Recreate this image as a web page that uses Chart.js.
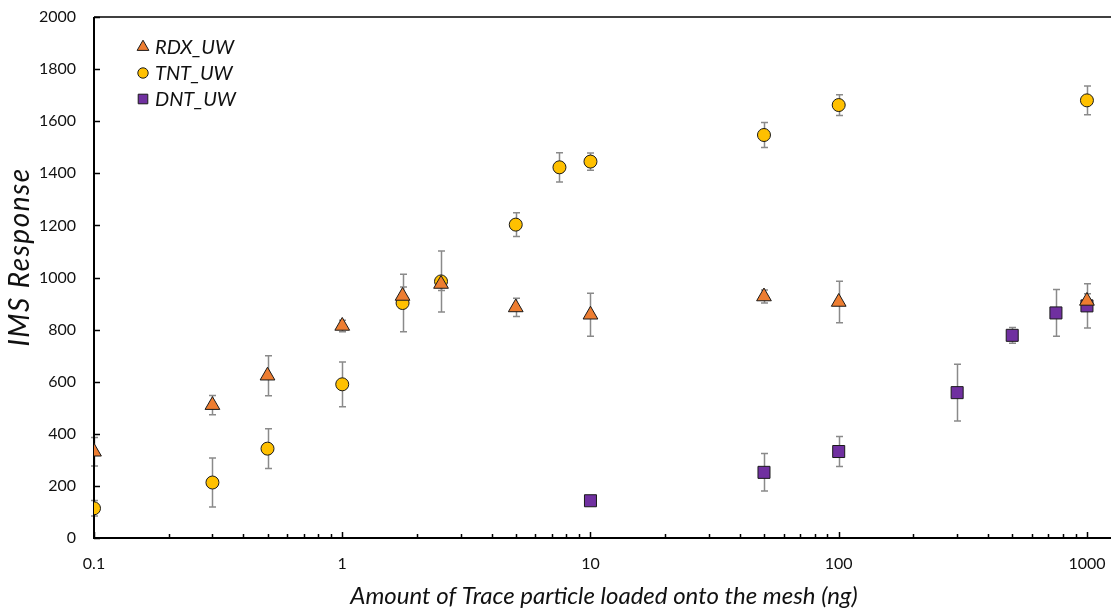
<!DOCTYPE html>
<html>
<head>
<meta charset="utf-8">
<script src="https://cdn.jsdelivr.net/npm/chart.js@4.4.1/dist/chart.umd.min.js"></script>
<style>
  html, body { margin: 0; padding: 0; background: #ffffff; }
  #wrap { width: 1111px; height: 609px; }
</style>
</head>
<body>
<div id="wrap"><canvas id="c" width="1111" height="609"></canvas></div>
<script>
// ---- Data ----
const rdxX   = [0.1, 0.3, 0.5, 1, 1.75, 2.5, 5, 10, 50, 100, 1000];
const rdxY   = [331, 510, 623, 814, 929, 975, 885, 857, 927, 906, 910];
const rdxErr = [55, 37, 77, 22, 35, 25, 35, 83, 25, 80, 28];

const tntX   = [0.1, 0.3, 0.5, 1, 1.75, 2.5, 5, 7.5, 10, 50, 100, 1000];
const tntY   = [114, 213, 343, 590, 902, 985, 1203, 1423, 1445, 1547, 1662, 1680];
const tntErr = [30, 94, 76, 86, 110, 117, 46, 56, 33, 48, 40, 55];

const dntX   = [10, 50, 100, 300, 500, 750, 1000];
const dntY   = [143, 252, 332, 558, 778, 864, 891];
const dntErr = [0, 72, 58, 109, 30, 90, 85];

const seriesNames = ['RDX_UW', 'TNT_UW', 'DNT_UW'];
const xTickValues = [0.1, 1, 10, 100, 1000];
const xTickLabels = ['0.1', '1', '10', '100', '1000'];
const yTickValues = [0, 200, 400, 600, 800, 1000, 1200, 1400, 1600, 1800, 2000];
const xTitle = 'Amount of Trace particle loaded onto the mesh (ng)';
const yTitle = 'IMS Response';

const pts = (xs, ys, es) => xs.map((x, i) => ({ x: x, y: ys[i], e: es[i] }));

const FONT = 'Lato, "Open Sans", sans-serif';
const TXT = '#111111';

const axesPlugin = {
  id: 'excelAxes',
  beforeDatasetsDraw(chart) {
    const { ctx, chartArea: a, scales: { x, y } } = chart;
    ctx.save();
    // error bars (behind markers)
    ctx.strokeStyle = '#8a8a8a';
    ctx.lineWidth = 1.5;
    chart.data.datasets.forEach(ds => {
      ds.data.forEach(p => {
        if (!p.e) return;
        const px = Math.round(x.getPixelForValue(p.x)) + 0.5;
        const y1 = y.getPixelForValue(p.y + p.e);
        const y2 = y.getPixelForValue(p.y - p.e);
        ctx.beginPath();
        ctx.moveTo(px, y1); ctx.lineTo(px, y2);
        ctx.moveTo(px - 3.5, y1); ctx.lineTo(px + 3.5, y1);
        ctx.moveTo(px - 3.5, y2); ctx.lineTo(px + 3.5, y2);
        ctx.stroke();
      });
    });
    // axes lines
    ctx.strokeStyle = '#000000';
    ctx.lineWidth = 2;
    ctx.beginPath();
    ctx.moveTo(a.left, a.top); ctx.lineTo(a.left, a.bottom);
    ctx.moveTo(a.left - 1, a.bottom); ctx.lineTo(a.right, a.bottom);
    ctx.stroke();
    ctx.lineWidth = 1.5;
    ctx.beginPath();
    ctx.moveTo(a.left, a.top); ctx.lineTo(a.right, a.top);
    ctx.stroke();
    // y ticks (inside)
    ctx.beginPath();
    yTickValues.forEach(v => {
      const py = Math.round(y.getPixelForValue(v)) + 0.5;
      ctx.moveTo(a.left, py); ctx.lineTo(a.left + 6, py);
    });
    ctx.stroke();
    // x ticks major + minor (inside)
    ctx.beginPath();
    xTickValues.forEach(v => {
      for (let m = 1; m <= 9; m++) {
        const val = v * m;
        if (val > x.max) continue;
        const px = Math.round(x.getPixelForValue(val)) + 0.5;
        const len = m === 1 ? 6 : 4;
        ctx.moveTo(px, a.bottom); ctx.lineTo(px, a.bottom - len);
      }
    });
    ctx.stroke();
    // tick labels
    ctx.fillStyle = TXT;
    ctx.font = '16px ' + FONT;
    ctx.textAlign = 'right';
    ctx.textBaseline = 'middle';
    yTickValues.forEach(v => {
      ctx.fillText(String(v), 76, y.getPixelForValue(v));
    });
    ctx.textAlign = 'center';
    xTickValues.forEach((v, i) => {
      ctx.fillText(xTickLabels[i], x.getPixelForValue(v), 564);
    });
    // axis titles
    ctx.font = 'italic 24px ' + FONT;
    ctx.fillText(xTitle, 604, 596);
    ctx.save();
    ctx.translate(20, 257);
    ctx.rotate(-Math.PI / 2);
    ctx.font = 'italic 28px ' + FONT;
    if ('letterSpacing' in ctx) ctx.letterSpacing = '1.5px';
    ctx.fillText(yTitle, 0, 0);
    ctx.restore();
    ctx.restore();
  },
  afterDatasetsDraw(chart) {
    const { ctx } = chart;
    ctx.save();
    const rows = [47, 73, 99];
    chart.data.datasets.forEach((ds, i) => {
      ctx.fillStyle = ds.backgroundColor;
      ctx.strokeStyle = ds.borderColor;
      ctx.lineWidth = 1;
      Chart.helpers.drawPoint(ctx, {
        pointStyle: ds.pointStyle,
        radius: ds.pointRadius * 0.8,
        borderWidth: 1
      }, 143, rows[i]);
      ctx.fillStyle = TXT;
      ctx.font = 'italic 20px ' + FONT;
      ctx.textAlign = 'left';
      ctx.textBaseline = 'middle';
      ctx.fillText(ds.label, 155, rows[i] + 1);
    });
    ctx.restore();
  }
};

new Chart(document.getElementById('c'), {
  type: 'scatter',
  data: {
    datasets: [
      { label: seriesNames[0], data: pts(rdxX, rdxY, rdxErr), pointStyle: 'triangle',
        pointRadius: 8.5, backgroundColor: '#ED7D31', borderColor: '#1a1a1a', borderWidth: 1 },
      { label: seriesNames[1], data: pts(tntX, tntY, tntErr), pointStyle: 'circle',
        pointRadius: 6.5, backgroundColor: '#FFC000', borderColor: '#1a1a1a', borderWidth: 1 },
      { label: seriesNames[2], data: pts(dntX, dntY, dntErr), pointStyle: 'rect',
        pointRadius: 8.5, backgroundColor: '#7030A0', borderColor: '#1a1a1a', borderWidth: 1 }
    ]
  },
  options: {
    responsive: false,
    animation: false,
    layout: { autoPadding: false, padding: { left: 94, top: 17, right: 0, bottom: 71 } },
    plugins: { legend: { display: false }, tooltip: { enabled: false } },
    scales: {
      x: { type: 'logarithmic', min: 0.1, max: 1250, display: false },
      y: { type: 'linear', min: 0, max: 2000, display: false }
    }
  },
  plugins: [axesPlugin]
});
</script>
</body>
</html>
